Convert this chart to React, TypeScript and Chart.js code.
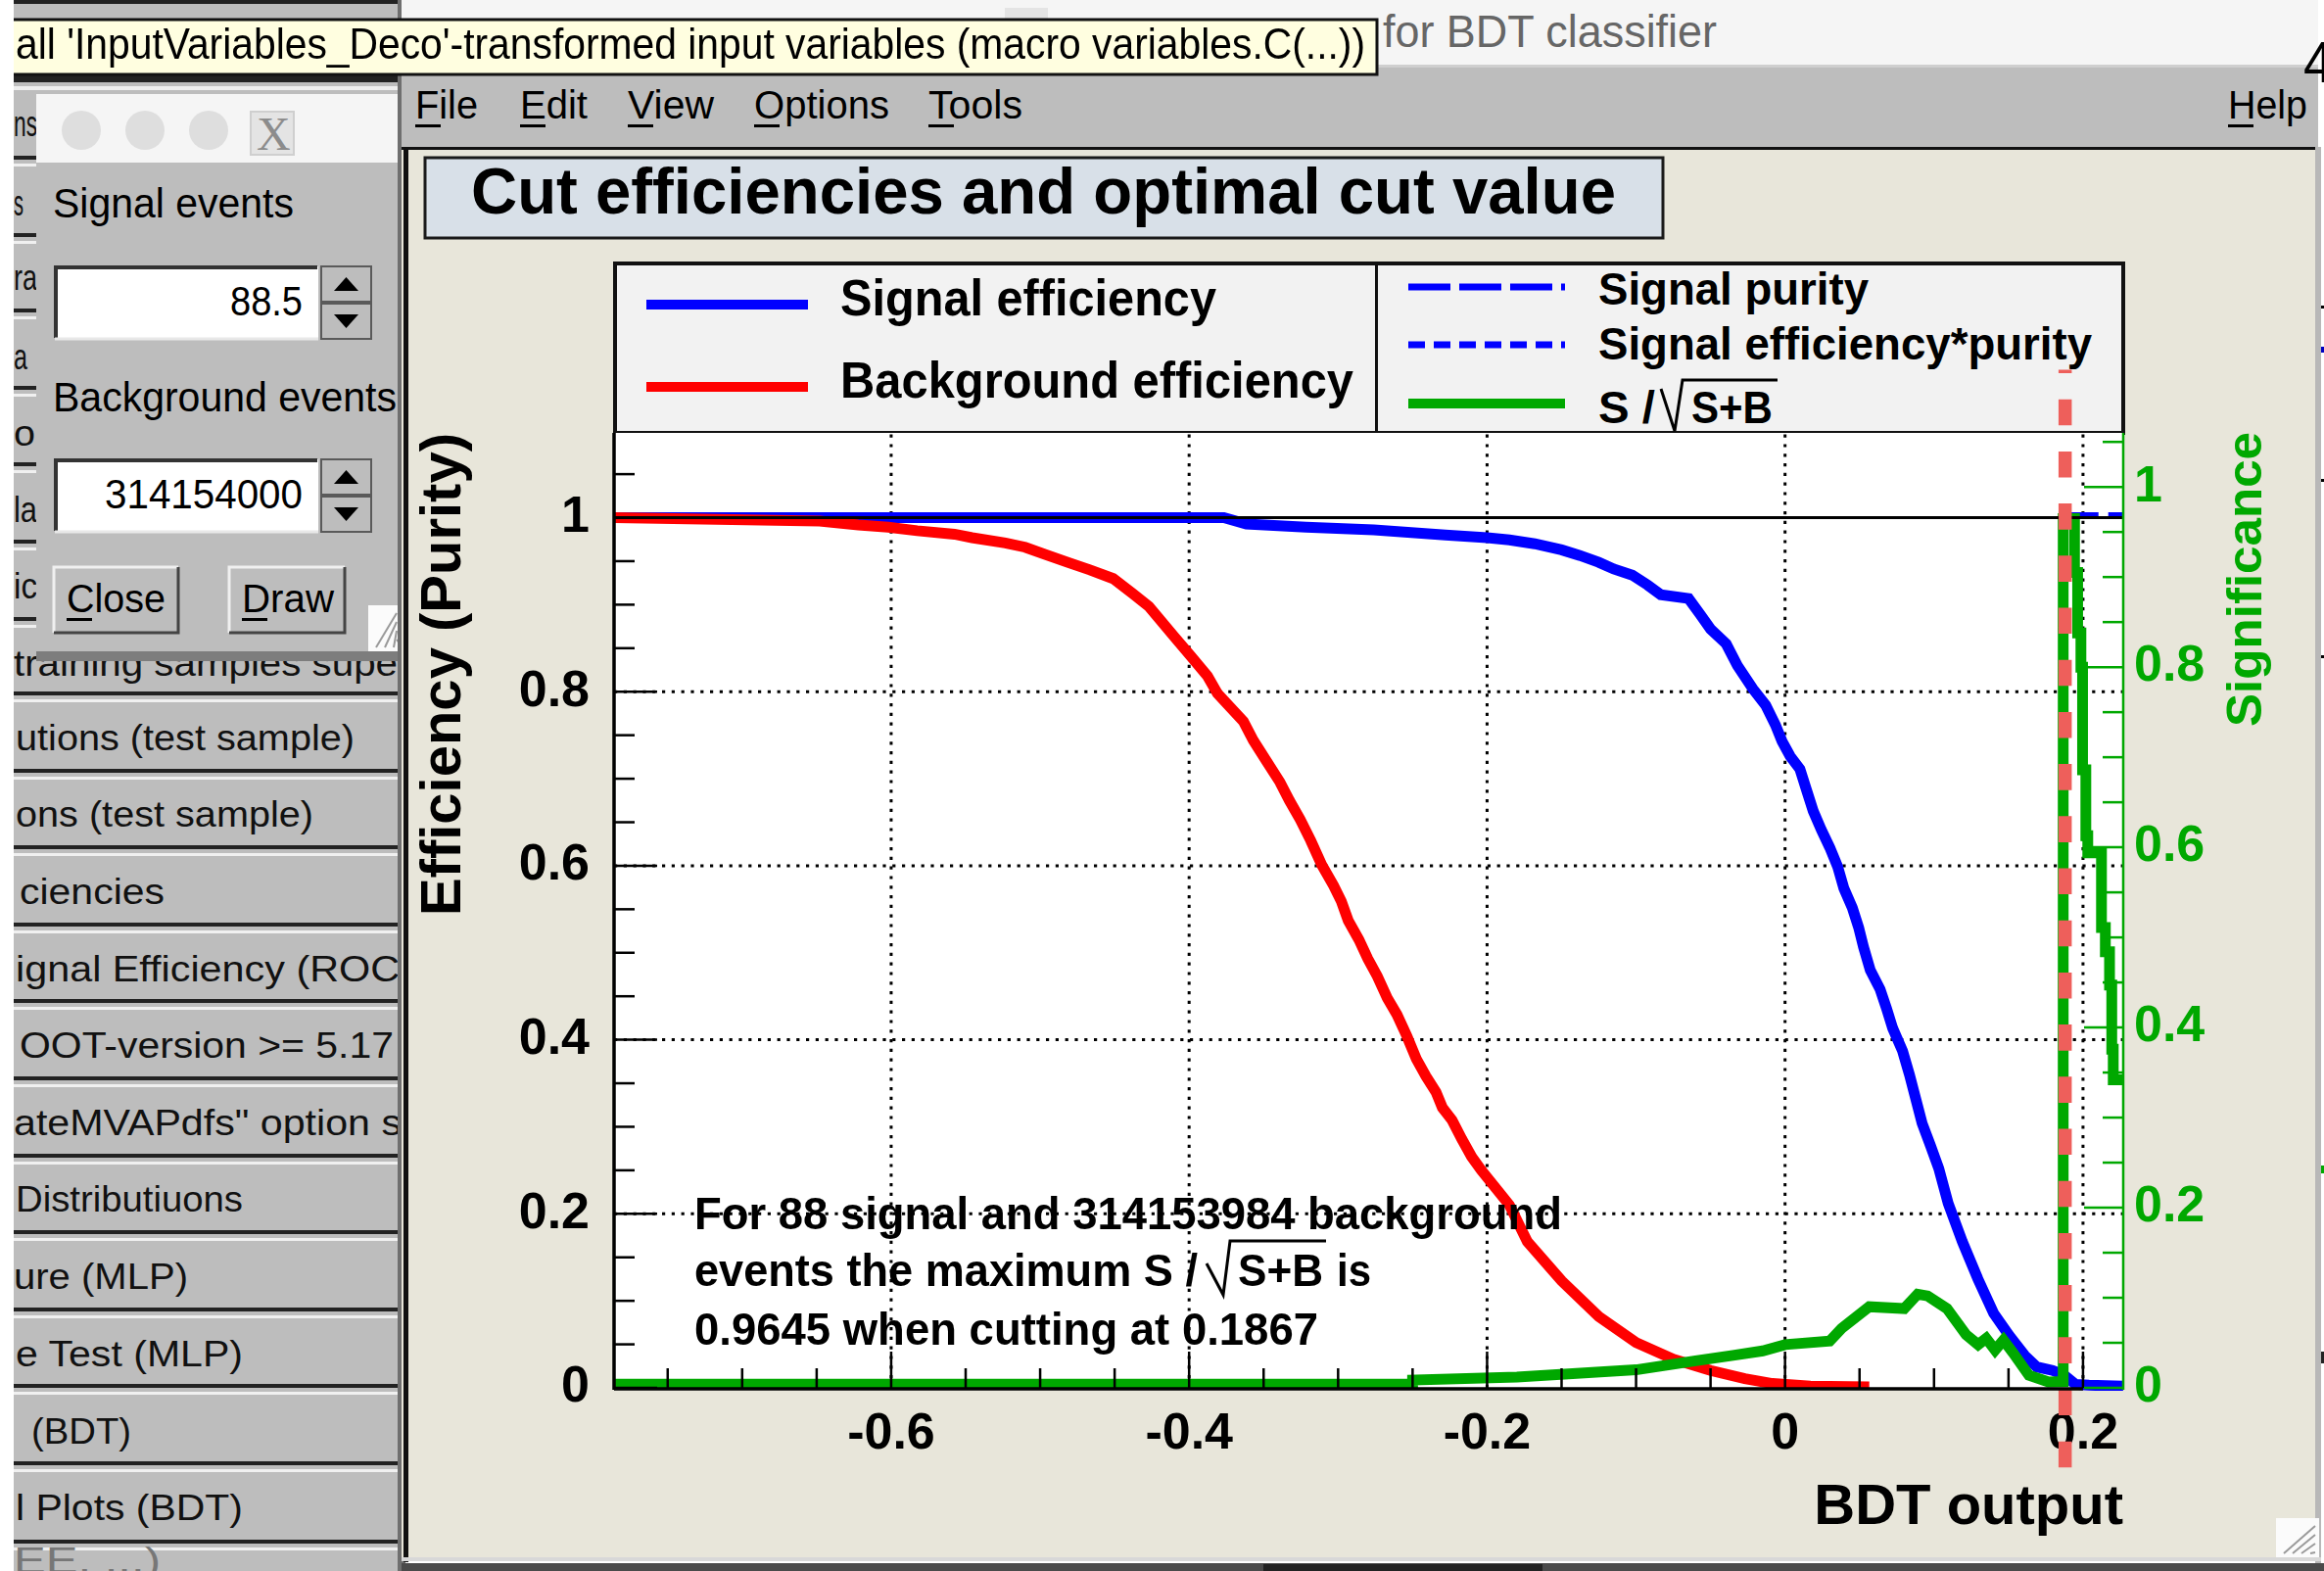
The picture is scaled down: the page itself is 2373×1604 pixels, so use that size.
import React, { useEffect, useRef } from "react";
import { Chart, registerables } from "chart.js";

Chart.register(...registerables);

// ---------- data ----------
const signalEffX = [-0.786, -0.3767, -0.3616, -0.3215, -0.276, -0.228, -0.2, -0.185, -0.168, -0.15, -0.1377, -0.125, -0.115, -0.1025, -0.0923, -0.0834, -0.0647, -0.057, -0.05, -0.0395, -0.032, -0.0217, -0.013, -0.0065, -0.002, 0.0034, 0.01, 0.0145, 0.0189, 0.0243, 0.03, 0.0353, 0.0395, 0.0452, 0.0494, 0.0527, 0.0572, 0.0638, 0.0682, 0.0723, 0.0789, 0.0835, 0.0879, 0.092, 0.0977, 0.1032, 0.1095, 0.119, 0.1295, 0.14, 0.1505, 0.161, 0.169, 0.1795, 0.187, 0.195, 0.204, 0.227];
const signalEffY = [1, 1, 0.9927, 0.989, 0.986, 0.98, 0.977, 0.9745, 0.97, 0.963, 0.9565, 0.9487, 0.941, 0.934, 0.9227, 0.9114, 0.907, 0.889, 0.872, 0.855, 0.83, 0.8035, 0.7845, 0.762, 0.743, 0.726, 0.711, 0.6866, 0.663, 0.6415, 0.621, 0.599, 0.574, 0.5515, 0.529, 0.5065, 0.48, 0.458, 0.4355, 0.413, 0.387, 0.36, 0.331, 0.304, 0.278, 0.252, 0.212, 0.168, 0.125, 0.0857, 0.06, 0.037, 0.024, 0.02, 0.015, 0.004, 0.003, 0.002];
const backgroundEffX = [-0.786, -0.648, -0.622, -0.602, -0.5825, -0.5575, -0.5457, -0.5234, -0.51, -0.497, -0.482, -0.4666, -0.451, -0.438, -0.427, -0.4096, -0.3986, -0.3877, -0.381, -0.3723, -0.3636, -0.3569, -0.348, -0.339, -0.3327, -0.3254, -0.3184, -0.311, -0.303, -0.2978, -0.2932, -0.286, -0.28, -0.2737, -0.267, -0.2605, -0.2538, -0.2475, -0.241, -0.2343, -0.23, -0.2235, -0.217, -0.2104, -0.2038, -0.185, -0.173, -0.15, -0.125, -0.1, -0.075, -0.05, -0.027, -0.0085, 0.017, 0.0565];
const backgroundEffY = [1, 0.996, 0.9915, 0.989, 0.985, 0.981, 0.977, 0.971, 0.966, 0.958, 0.949, 0.94, 0.93, 0.913, 0.898, 0.8625, 0.8403, 0.818, 0.798, 0.782, 0.766, 0.744, 0.72, 0.696, 0.675, 0.653, 0.629, 0.601, 0.577, 0.559, 0.537, 0.515, 0.493, 0.473, 0.448, 0.429, 0.404, 0.378, 0.358, 0.34, 0.322, 0.3077, 0.286, 0.2656, 0.25, 0.21, 0.168, 0.123, 0.082, 0.052, 0.033, 0.02, 0.0105, 0.005, 0.002, 0.001];
const significanceX = [-0.786, -0.25, -0.25, -0.18, -0.1, -0.06, -0.035, -0.015, 0, 0.03, 0.038, 0.0565, 0.08, 0.089, 0.0957, 0.1087, 0.1215, 0.1296, 0.135, 0.141, 0.1466, 0.153, 0.1637, 0.1768, 0.1867, 0.1867, 0.1943, 0.1943, 0.1964, 0.1964, 0.1986, 0.1986, 0.1997, 0.1997, 0.2019, 0.2019, 0.2032, 0.2032, 0.2124, 0.2124, 0.215, 0.215, 0.2178, 0.2178, 0.2193, 0.2193, 0.2203, 0.2203, 0.227];
const significanceY = [0.004, 0.004, 0.0087, 0.012, 0.02, 0.03, 0.036, 0.041, 0.048, 0.052, 0.066, 0.09, 0.088, 0.104, 0.102, 0.088, 0.059, 0.048, 0.055, 0.042, 0.053, 0.039, 0.014, 0.0065, 0.007, 0.965, 0.965, 0.905, 0.905, 0.838, 0.838, 0.8, 0.8, 0.686, 0.686, 0.613, 0.613, 0.594, 0.594, 0.511, 0.511, 0.484, 0.484, 0.447, 0.447, 0.376, 0.376, 0.342, 0.342];
const purityX = [0.19, 0.227];
const purityY = [1.004, 1.004];
const unityX = [-0.786, 0.227];
const unityY = [1, 1];
const cutX = [0.188, 0.188];
const cutY = [-0.0915, 1.17];

const xMajor = [-0.6, -0.4, -0.2, 0, 0.2];
const xMinor = [-0.75, -0.7, -0.65, -0.55, -0.5, -0.45, -0.35, -0.3, -0.25, -0.15, -0.1, -0.05, 0.05, 0.1, 0.15];
const yMajor = [0, 0.2, 0.4, 0.6, 0.8, 1];
const yMinor = [0.05, 0.1, 0.15, 0.25, 0.3, 0.35, 0.45, 0.5, 0.55, 0.65, 0.7, 0.75, 0.85, 0.9, 0.95, 1.05];

const FONT = '"Liberation Sans", Arial, sans-serif';
const GREEN = "#00a800";

const zip = (xs: number[], ys: number[]) => xs.map((x, i) => ({ x, y: ys[i] }));
const asTicks = (a: number[], b: number[]) => [...a, ...b].sort((p, q) => p - q).map((value) => ({ value }));

// ---------- small svg helpers ----------
function T({ x, y, w, s, t, b, c, a }: any) {
  return (
    <text x={x} y={y} fontFamily={FONT} fontSize={s} fontWeight={b ? 700 : 400} fill={c || "#000"} textLength={w} lengthAdjust="spacingAndGlyphs" textAnchor={a || "start"} style={{ whiteSpace: "pre" }}>
      {t}
    </text>
  );
}
const R = ({ x, y, w, h, f, st, sw }: any) => <rect x={x} y={y} width={w} height={h} fill={f} stroke={st} strokeWidth={sw} />;

const sideRows: any[] = [
  ["training samples supe", 14, 392, 690],
  ["utions (test sample)", 16, 346, 766],
  ["ons (test sample)", 16, 304, 844],
  ["ciencies", 20, 148, 923],
  ["ignal Efficiency (ROC", 16, 392, 1002],
  ["OOT-version >= 5.17", 20, 382, 1080],
  ['ateMVAPdfs" option s', 14, 396, 1159],
  ["Distributiuons", 16, 232, 1237],
  ["ure (MLP)", 14, 178, 1316],
  ["e Test (MLP)", 16, 232, 1395],
  ["(BDT)", 32, 102, 1474],
  ["l Plots (BDT)", 16, 232, 1552],
];
const sideFragments: any[] = [
  ["ns", 14, 24, 139],
  ["s", 14, 10, 220],
  ["ra", 14, 24, 296],
  ["a", 14, 14, 377],
  ["o", 14, 22, 455],
  ["la", 14, 24, 533],
  ["ic", 14, 24, 611],
];
const separators = [161, 240, 317, 396, 474, 553, 632, 708, 787, 865, 944, 1022, 1101, 1180, 1258, 1337, 1415, 1494, 1574];

function Spinner({ y }: { y: number }) {
  return (
    <g>
      <R x={328} y={y} w={51} h={36} f="#bdbdbd" st="#5a5a5a" sw={2} />
      <R x={328} y={y + 38} w={51} h={36} f="#bdbdbd" st="#5a5a5a" sw={2} />
      <polygon points={`${341},${y + 25} ${366},${y + 25} ${353.5},${y + 11}`} fill="#000" />
      <polygon points={`${341},${y + 49} ${366},${y + 49} ${353.5},${y + 63}`} fill="#000" />
    </g>
  );
}

function Grip({ x, y, w, h }: any) {
  const l = [];
  for (let i = 0; i < 4; i++) l.push(<line key={i} x1={x + w - 4} y1={y + 8 + i * 9} x2={x + 8 + i * 9} y2={y + h - 4} stroke="#9a9a9a" strokeWidth={2} />);
  return (
    <g>
      <R x={x} y={y} w={w} h={h} f="#fbfbfb" />
      {l}
    </g>
  );
}

function Gui() {
  return (
    <svg width={2373} height={1604} style={{ position: "absolute", left: 0, top: 0 }}>
      <R x={0} y={0} w={2373} h={1604} f="#ffffff" />
      {/* left list */}
      <R x={14} y={0} w={396} h={1604} f="#bdbdbd" />
      <R x={14} y={0} w={396} h={4} f="#222" />
      <R x={14} y={76} w={396} h={8} f="#222" />
      <R x={14} y={88} w={396} h={4} f="#eee" />
      {separators.map((y) => (
        <g key={y}>
          <R x={14} y={y - 2} w={396} h={4} f="#222" />
          <R x={14} y={y + 6} w={396} h={3} f="#f0f0f0" />
        </g>
      ))}
      {sideRows.map((r) => <T key={r[0]} t={r[0]} x={r[1]} w={r[2]} y={r[3]} s={36} c="#111" />)}
      {sideFragments.map((r) => <T key={r[3]} t={r[0]} x={r[1]} w={r[2]} y={r[3]} s={36} c="#111" />)}
      <T t="EE, ...)" x={14} w={150} y={1606} s={36} c="#777" />

      {/* dialog */}
      <R x={37} y={96} w={372} h={569} f="#bdbdbd" />
      <R x={37} y={665} w={372} h={10} f="#7d7d7d" />
      <R x={37} y={96} w={372} h={70} f="#f5f5f5" />
      {[83, 148, 213].map((x) => <ellipse key={x} cx={x} cy={133} rx={20} ry={20} fill="#dedede" />)}
      <R x={256} y={114} w={44} h={44} f="#e4e4e4" st="#cfcfcf" sw={2} />
      <text x={262} y={153} fontFamily='"Liberation Serif", serif' fontSize={48} fill="#8c8c8c">X</text>
      <T t="Signal events" x={54} w={246} y={222} s={42} />
      <T t="Background events" x={54} w={351} y={420} s={42} />
      <R x={56} y={272} w={269} h={74} f="#fff" />
      <path d="M57 345 V273 H324" stroke="#333" strokeWidth={4} fill="none" />
      <path d="M56 346 H325" stroke="#e8e8e8" strokeWidth={3} fill="none" />
      <T t="88.5" x={235} w={74} y={322} s={42} />
      <Spinner y={272} />
      <R x={56} y={469} w={269} h={74} f="#fff" />
      <path d="M57 542 V470 H324" stroke="#333" strokeWidth={4} fill="none" />
      <path d="M56 543 H325" stroke="#e8e8e8" strokeWidth={3} fill="none" />
      <T t="314154000" x={107} w={202} y={519} s={42} />
      <Spinner y={469} />
      {[[54, 129, "Close", 68, 101], [233, 120, "Draw", 247, 94]].map((b: any) => (
        <g key={b[2]}>
          <R x={b[0]} y={578} w={b[1]} h={69} f="#bdbdbd" />
          <path d={`M${b[0] + 1} 646 V579 H${b[0] + b[1] - 1}`} stroke="#f0f0f0" strokeWidth={3} fill="none" />
          <path d={`M${b[0] + 1} 646 H${b[0] + b[1] - 1} V579`} stroke="#444" strokeWidth={3} fill="none" />
          <T t={b[2]} x={b[3]} w={b[4]} y={625} s={40} />
          <R x={b[3]} y={631} w={26} h={3} f="#000" />
        </g>
      ))}
      <Grip x={376} y={618} w={33} h={47} />

      {/* plot window */}
      <R x={406} y={0} w={8} h={1604} f="#6f6f6f" />
      <R x={410} y={0} w={1957} h={66} f="#f5f5f5" />
      <R x={1026} y={8} w={44} h={12} f="#e4e4e4" />
      <T t="for BDT classifier" x={1412} w={341} y={48} s={46} c="#666" />
      <R x={410} y={66} w={1957} h={86} f="#bdbdbd" />
      <R x={410} y={66} w={1957} h={3} f="#cfcfcf" />
      {[["File", 424, 64, 30], ["Edit", 531, 69, 30], ["View", 641, 88, 30], ["Options", 770, 138, 30], ["Tools", 948, 96, 30], ["Help", 2275, 81, 30]].map((m: any) => (
        <g key={m[0]}>
          <T t={m[0]} x={m[1]} w={m[2]} y={121} s={40} />
          <R x={m[1]} y={127} w={m[3] - 4} h={3} f="#000" />
        </g>
      ))}
      <R x={410} y={150} w={1955} h={1440} f="#e8e6da" />
      <R x={410} y={150} w={1955} h={3} f="#111" />
      <R x={412} y={150} w={5} h={1445} f="#111" />
      <R x={2364} y={150} w={6} h={1450} f="#b8b8b8" />
      <R x={410} y={1590} w={1960} h={4} f="#d8d8d8" />
      <R x={410} y={1596} w={1963} h={8} f="#4a4a4a" />
      <R x={1290} y={1597} w={285} h={7} f="#222" />

      {/* title */}
      <R x={434} y={161} w={1264} h={82} f="#d8e0e8" st="#1a1a1a" sw={3} />
      <T t="Cut efficiencies and optimal cut value" x={481} w={1169} y={218} s={66} b />

      {/* legend */}
      <R x={628} y={269} w={1540} h={173} f="#f2f2f2" st="#111" sw={4} />
      <R x={1404} y={269} w={3} h={173} f="#111" />
      <R x={660} y={306} w={165} h={10} f="#0000ff" />
      <R x={660} y={390} w={165} h={10} f="#ff0000" />
      <T t="Signal efficiency" x={858} w={384} y={322} s={52} b />
      <T t="Background efficiency" x={858} w={524} y={406} s={52} b />
      <path d="M1438 293 H1598" stroke="#0000ff" strokeWidth={7} strokeDasharray="43 9" fill="none" />
      <path d="M1438 352 H1598" stroke="#0000ff" strokeWidth={7} strokeDasharray="17 9" fill="none" />
      <R x={1438} y={407} w={160} h={10} f={GREEN} />
      <T t="Signal purity" x={1632} w={276} y={311} s={47} b />
      <T t="Signal efficiency*purity" x={1632} w={504} y={367} s={47} b />
      <T t="S /" x={1632} w={58} y={432} s={47} b />
      <path d="M1696 397 L1710 440 L1718 388 H1815" stroke="#000" strokeWidth={3} fill="none" />
      <T t="S+B" x={1727} w={83} y={432} s={47} b />

      {/* scraps along the right edge */}
      <T t="4" x={2352} y={84} w={30} s={60} />
      <R x={2370} y={312} w={3} h={3} f="#000" />
      <R x={2370} y={354} w={3} h={6} f="#0000c0" />
      <R x={2370} y={489} w={3} h={3} f="#000" />
      <R x={2370} y={669} w={3} h={3} f="#000" />
      <R x={2370} y={1190} w={3} h={8} f={GREEN} />
      <R x={2370} y={1380} w={3} h={12} f="#222" />
      <Grip x={2324} y={1550} w={44} h={40} />
    </svg>
  );
}

function Overlay() {
  return (
    <svg width={2373} height={1604} style={{ position: "absolute", left: 0, top: 0, pointerEvents: "none" }}>
      {/* tooltip */}
      <R x={14} y={19} w={1393} h={57} f="#fffee0" />
      <path d="M14 20 H1406 V76 H14" stroke="#111" strokeWidth={3} fill="none" />
      <T t="all 'InputVariables_Deco'-transformed input variables (macro variables.C(...))" x={16} w={1378} y={60} s={45} />
      {/* annotation */}
      <T t="For 88 signal and 314153984 background" x={709} w={886} y={1255} s={46} b />
      <T t="events the maximum S /" x={709} w={514} y={1313} s={46} b />
      <path d="M1232 1290 L1249 1322 L1256 1267 H1354" stroke="#000" strokeWidth={3} fill="none" />
      <T t="S+B" x={1264} w={87} y={1313} s={46} b />
      <T t="is" x={1365} w={35} y={1313} s={46} b />
      <T t="0.9645 when cutting at 0.1867" x={709} w={637} y={1373} s={46} b />
      {/* y title is drawn by Chart.js; significance reads upward */}
      <g transform="translate(2309 742) rotate(-90)">
        <T t="Significance" x={0} w={301} y={0} s={50} b c={GREEN} />
      </g>
    </svg>
  );
}

const rootAxes = {
  id: "rootAxes",
  beforeDatasetsDraw(chart: any) {
    const { ctx, chartArea: a, scales } = chart;
    ctx.save();
    ctx.fillStyle = "#fff";
    ctx.fillRect(a.left, a.top, a.right - a.left, a.bottom - a.top);
    ctx.strokeStyle = "#000";
    ctx.lineWidth = 3;
    ctx.setLineDash([3.2, 6.6]);
    for (const v of xMajor) {
      const p = scales.x.getPixelForValue(v);
      ctx.beginPath(); ctx.moveTo(p, a.bottom); ctx.lineTo(p, a.top); ctx.stroke();
    }
    for (const v of yMajor) {
      if (v === 1 || v === 0) continue;
      const p = scales.y.getPixelForValue(v);
      ctx.beginPath(); ctx.moveTo(a.left, p); ctx.lineTo(a.right, p); ctx.stroke();
    }
    ctx.restore();
  },
  afterDatasetsDraw(chart: any) {
    const { ctx, chartArea: a, scales } = chart;
    ctx.save();
    ctx.setLineDash([]);
    ctx.strokeStyle = "#000";
    ctx.lineWidth = 2.5;
    const tick = (x1: number, y1: number, x2: number, y2: number) => { ctx.beginPath(); ctx.moveTo(x1, y1); ctx.lineTo(x2, y2); ctx.stroke(); };
    for (const v of xMajor) { const p = scales.x.getPixelForValue(v); tick(p, a.bottom, p, a.bottom - 37); }
    for (const v of xMinor) { const p = scales.x.getPixelForValue(v); tick(p, a.bottom, p, a.bottom - 20); }
    for (const v of yMajor) { const p = scales.y.getPixelForValue(v); tick(a.left, p, a.left + 44, p); }
    for (const v of yMinor) { const p = scales.y.getPixelForValue(v); tick(a.left, p, a.left + 21, p); }
    ctx.lineWidth = 3.5;
    tick(a.left, a.top, a.left, a.bottom + 2);
    tick(a.left, a.bottom + 1, scales.x.getPixelForValue(0.2), a.bottom + 1);
    ctx.strokeStyle = GREEN;
    ctx.lineWidth = 2.5;
    for (const v of yMajor) { const p = scales.sig.getPixelForValue(v); tick(a.right, p, a.right - 40, p); }
    for (const v of yMinor) { const p = scales.sig.getPixelForValue(v); tick(a.right, p, a.right - 21, p); }
    tick(a.right, a.top, a.right, a.bottom + 2);
    ctx.restore();
  },
};

const tickFont = { family: FONT, size: 52, weight: "bold" as const };
const lab = (v: number, majors: number[]) => (majors.some((m) => Math.abs(m - v) < 1e-9) ? String(v) : "");

export default function App() {
  const ref = useRef<HTMLCanvasElement>(null);
  useEffect(() => {
    document.body.style.margin = "0";
    const chart = new Chart(ref.current as any, {
      type: "line",
      data: {
        datasets: [
          { label: "Signal efficiency", data: zip(signalEffX, signalEffY), borderColor: "#0000ff", borderWidth: 11, yAxisID: "y", order: 6, clip: { left: 0, top: 0, right: 0, bottom: 3 } as any },
          { label: "Signal purity", data: zip(purityX, purityY), borderColor: "#0000ff", borderWidth: 4, borderDash: [31, 10], yAxisID: "y", order: 7, clip: 0 },
          { label: "Background efficiency", data: zip(backgroundEffX, backgroundEffY), borderColor: "#ff0000", borderWidth: 11, yAxisID: "y", order: 5, clip: 0 },
          { label: "S/sqrt(S+B)", data: zip(significanceX, significanceY), borderColor: GREEN, borderWidth: 11, yAxisID: "sig", order: 4, clip: 0 },
          { label: "Unity", data: zip(unityX, unityY), borderColor: "#000", borderWidth: 3, yAxisID: "y", order: 3, clip: 0 },
          { label: "Optimal cut", data: zip(cutX, cutY), borderColor: "#ee5f5b", borderWidth: 13.5, borderDash: [26.6, 26.6], borderCapStyle: "butt", yAxisID: "y", order: 1, clip: false as any },
        ] as any,
      },
      options: {
        responsive: false,
        animation: false,
        layout: { padding: { top: 289, left: 0, right: 0, bottom: 0 } },
        elements: { point: { radius: 0 }, line: { tension: 0, borderJoinStyle: "miter", fill: false } },
        plugins: { legend: { display: false }, title: { display: false }, tooltip: { enabled: false } },
        scales: {
          x: {
            type: "linear", min: -0.786, max: 0.227,
            grid: { display: false }, border: { display: false },
            afterBuildTicks: (s: any) => { s.ticks = asTicks(xMajor, xMinor); },
            afterFit: (s: any) => { s.height = 173; },
            ticks: { autoSkip: false, maxRotation: 0, padding: 8, color: "#000", font: tickFont, callback: (v: any) => lab(v, xMajor) },
            title: { display: true, text: "BDT output", align: "end", color: "#000", font: { family: FONT, size: 58, weight: "bold" }, padding: { top: 0, bottom: 15 } },
          },
          y: {
            type: "linear", position: "left", min: 0, max: 1.0974,
            grid: { display: false }, border: { display: false },
            afterBuildTicks: (s: any) => { s.ticks = asTicks(yMajor, yMinor); },
            afterFit: (s: any) => { s.width = 210; },
            ticks: { autoSkip: false, padding: 17, color: "#000", font: tickFont, callback: (v: any) => lab(v, yMajor) },
            title: { display: true, text: "Efficiency (Purity)", align: "end", color: "#000", font: { family: FONT, size: 58, weight: "bold" }, padding: { top: 2, bottom: 0 } },
          },
          sig: {
            type: "linear", position: "right", min: 0, max: 1.06,
            grid: { display: false }, border: { display: false },
            afterBuildTicks: (s: any) => { s.ticks = asTicks(yMajor, yMinor); },
            afterFit: (s: any) => { s.width = 196; },
            ticks: { autoSkip: false, padding: 3, color: GREEN, font: tickFont, callback: (v: any) => lab(v, yMajor) },
          },
        },
      } as any,
      plugins: [rootAxes],
    });
    return () => chart.destroy();
  }, []);
  return (
    <div style={{ position: "fixed", left: 0, top: 0, width: 2373, height: 1604, overflow: "hidden", filter: "blur(0.6px)" }}>
      <Gui />
      <canvas ref={ref} width={1947} height={1437} style={{ position: "absolute", left: 417, top: 153, width: 1947, height: 1437 }} />
      <Overlay />
    </div>
  );
}
